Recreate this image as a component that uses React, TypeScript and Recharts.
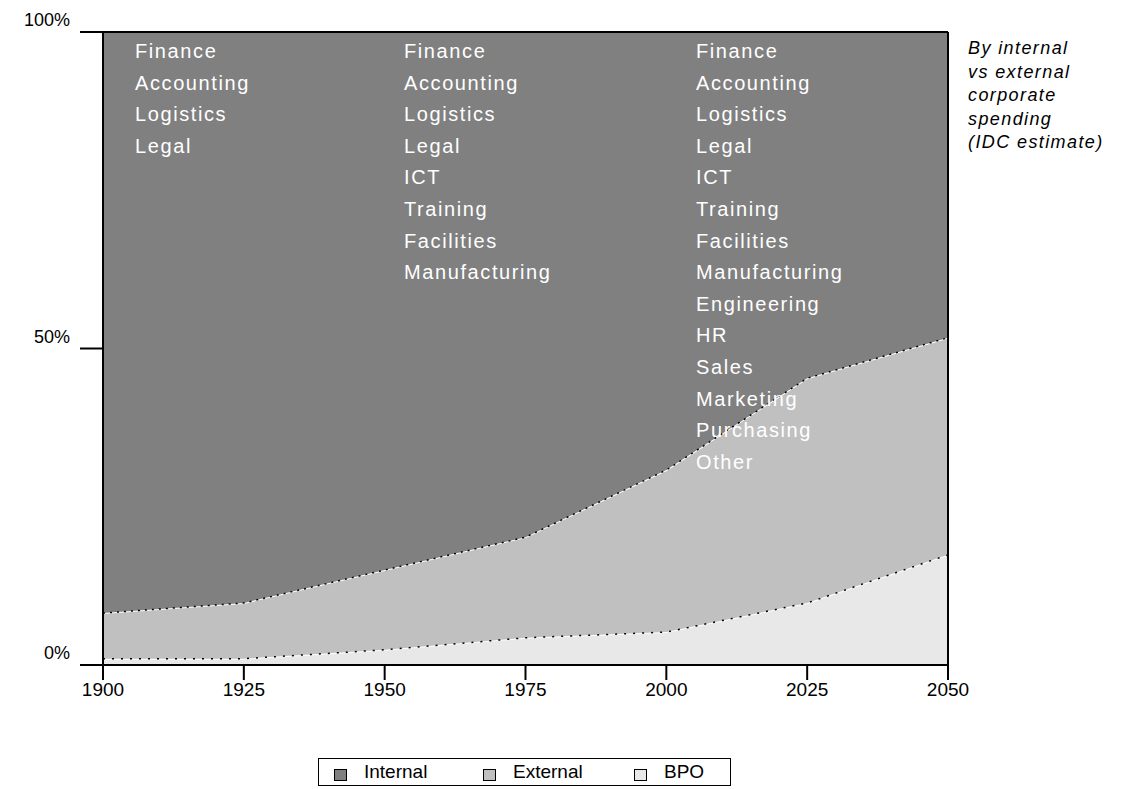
import React from 'react';
import { ComposedChart, Area, Line, XAxis, YAxis, ReferenceLine } from 'recharts';

// years on the x axis
const years = [1900, 1925, 1950, 1975, 2000, 2025, 2050];
// share of corporate spending, percent
const bpo = [1, 1, 2.4, 4.3, 5.2, 9.8, 17.4];
const external = [7.2, 8.8, 12.6, 15.9, 25.6, 35.5, 34.3];
const internal = [91.8, 90.2, 85, 79.8, 69.2, 54.7, 48.3];

const yTicks = [0, 50, 100];

// functions outsourced at each stage
const stage1 = ['Finance', 'Accounting', 'Logistics', 'Legal'];
const stage2 = [...stage1, 'ICT', 'Training', 'Facilities', 'Manufacturing'];
const stage3 = [...stage2, 'Engineering', 'HR', 'Sales', 'Marketing', 'Purchasing', 'Other'];

const noteLines = ['By internal', 'vs external', 'corporate', 'spending', '(IDC estimate)'];

const legendItems = [
  { name: 'Internal', color: '#808080', left: 15 },
  { name: 'External', color: '#c0c0c0', left: 164 },
  { name: 'BPO', color: '#e8e8e8', left: 315 },
];

const font = '"Liberation Sans", Arial, sans-serif';

const data = years.map((year, i) => ({
  year,
  bpo: bpo[i],
  external: external[i],
  internal: internal[i],
  bpoTop: bpo[i],
  extTop: bpo[i] + external[i],
}));

const YTick = ({ x, y, payload }: any) => (
  <text x={x} y={y - 6} textAnchor="end" fontSize={18} fontFamily={font} fill="#000">
    {payload.value}%
  </text>
);

const Column = ({ left, items }: { left: number; items: string[] }) => (
  <div style={{ position: 'absolute', left, top: 36, fontFamily: font, fontSize: 20, letterSpacing: 1.6, color: '#fff', lineHeight: '31.6px' }}>
    {items.map((t) => (
      <div key={t}>{t}</div>
    ))}
  </div>
);

export default function App() {
  return (
    <div style={{ position: 'absolute', left: 0, top: 0, width: 1123, height: 789, background: '#fff' }}>
      <ComposedChart
        width={1123}
        height={789}
        data={data}
        margin={{ top: 32, right: 175, left: 43, bottom: 64 }}
      >
        <XAxis
          dataKey="year"
          type="number"
          domain={[1900, 2050]}
          ticks={years}
          tickSize={15}
          tickMargin={3}
          stroke="#000"
          strokeWidth={2}
          height={60}
          tick={{ fontSize: 19, fontFamily: font, fill: '#000' }}
        />
        <YAxis
          domain={[0, 100]}
          ticks={yTicks}
          tickSize={23}
          tickMargin={10}
          width={60}
          stroke="#000"
          strokeWidth={2}
          tick={<YTick />}
        />
        <Area type="linear" dataKey="bpo" stackId="s" fill="#e8e8e8" fillOpacity={1} stroke="#fff" strokeWidth={2} isAnimationActive={false} />
        <Area type="linear" dataKey="external" stackId="s" fill="#c0c0c0" fillOpacity={1} stroke="#fff" strokeWidth={2} isAnimationActive={false} />
        <Area type="linear" dataKey="internal" stackId="s" fill="#808080" fillOpacity={1} stroke="none" isAnimationActive={false} />
        <Line type="linear" dataKey="bpoTop" stroke="#000" strokeWidth={1.5} strokeDasharray="2 7" dot={false} isAnimationActive={false} />
        <Line type="linear" dataKey="extTop" stroke="#000" strokeWidth={1.5} strokeDasharray="2 5" dot={false} isAnimationActive={false} />
        <ReferenceLine y={100} stroke="#000" strokeWidth={2} />
        <ReferenceLine x={2050} stroke="#000" strokeWidth={2} />
      </ComposedChart>

      <Column left={135} items={stage1} />
      <Column left={404} items={stage2} />
      <Column left={696} items={stage3} />

      <div style={{ position: 'absolute', left: 968, top: 37, fontFamily: font, fontSize: 18, fontStyle: 'italic', letterSpacing: 1.4, lineHeight: '23.5px', color: '#000' }}>
        {noteLines.map((t) => (
          <div key={t}>{t}</div>
        ))}
      </div>

      <div
        style={{
          position: 'absolute',
          left: 318,
          top: 758,
          width: 411,
          height: 26,
          border: '1.5px solid #000',
          fontFamily: font,
          fontSize: 19,
          color: '#000',
        }}
      >
        {legendItems.map((it) => (
          <div key={it.name} style={{ position: 'absolute', left: it.left, top: 2, display: 'flex', alignItems: 'center' }}>
            <div style={{ width: 11, height: 10, background: it.color, border: '1.5px solid #000', marginRight: 17, marginTop: 6 }} />
            <span>{it.name}</span>
          </div>
        ))}
      </div>
    </div>
  );
}
